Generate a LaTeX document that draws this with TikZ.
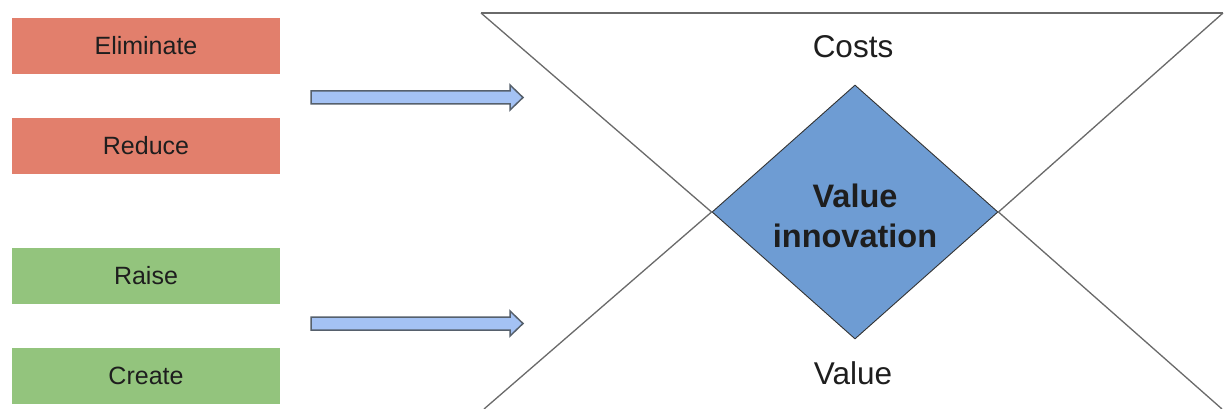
\documentclass[tikz,border=0pt]{standalone}
\usepackage{fontspec}
\setmainfont{Liberation Sans}
\usetikzlibrary{shapes.geometric}
\definecolor{redbox}{HTML}{E27F6C}
\definecolor{greenbox}{HTML}{93C47D}
\definecolor{dia}{HTML}{6E9CD3}
\definecolor{arrfill}{HTML}{A4C2F4}
\definecolor{arrline}{HTML}{56606C}
\definecolor{frame}{HTML}{6A6A6A}
\definecolor{txt}{HTML}{1E1E1E}
\begin{document}
\begin{tikzpicture}[x=1pt,y=-1pt,
  actbox/.style={rectangle,minimum width=268pt,minimum height=56pt,inner sep=0pt,
    text=txt,font=\fontsize{25}{29}\selectfont},
  redact/.style={actbox,fill=redbox},
  greenact/.style={actbox,fill=greenbox},
  blockarrow/.style={fill=arrfill,draw=arrline,line width=1.5pt,line join=miter},
  frameline/.style={draw=frame,line width=1.3pt},
  biglabel/.style={anchor=base,text=txt,font=\fontsize{31.5}{36}\selectfont,inner sep=0pt}]
\useasboundingbox (0,0) rectangle (1225,409);
\fill[white] (0,0) rectangle (1225,409);

% left boxes
\node[redact] (elim) at (146,46) {Eliminate};
\node[redact] (red) at (146,146) {Reduce};
\node[greenact] (raise) at (146,275.5) {Raise};
\node[greenact] (create) at (146,375.5) {Create};

% block arrows
\draw[blockarrow] (311,91) -- (510,91) -- (510,85) -- (523,97.5) -- (510,110) -- (510,104) -- (311,104) -- cycle;
\draw[blockarrow] (311,317) -- (510,317) -- (510,311) -- (523,323.5) -- (510,336) -- (510,330) -- (311,330) -- cycle;

% diamond
\node[diamond,draw=black!80,line width=0.9pt,fill=dia,minimum width=286pt,minimum height=254pt,inner sep=0pt,aspect=1.126] (vi) at (855,212) {};
\node[align=center,text=txt,font=\bfseries\fontsize{32.5}{40}\selectfont,inner sep=0pt] (vitext) at (855,216) {Value\\innovation};

% frame lines
\coordinate (tl) at (481,13);
\coordinate (tr) at (1223,13);
\coordinate (bl) at (484,409);
\coordinate (br) at (1222,409);
\draw[frameline] (tl) -- (tr);
\draw[frameline] (tl) -- (vi.west) -- (bl);
\draw[frameline] (tr) -- (vi.east) -- (br);

% labels
\node[biglabel] (costs) at (853,58) {Costs};
\node[biglabel] (value) at (853,384) {Value};
\end{tikzpicture}
\end{document}
